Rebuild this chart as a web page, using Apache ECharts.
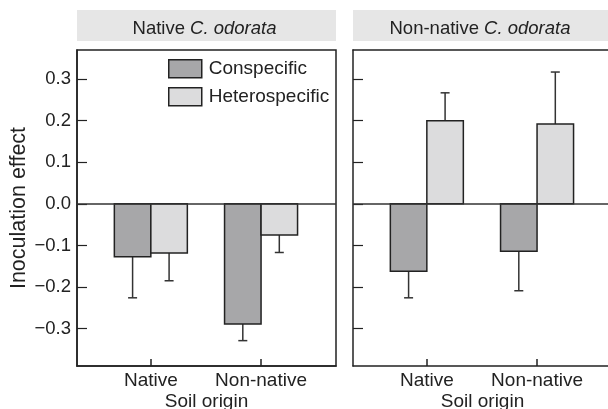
<!DOCTYPE html>
<html>
<head>
<meta charset="utf-8">
<script src="https://cdn.jsdelivr.net/npm/echarts@6/dist/echarts.min.js"></script>
<style>
  html, body { margin: 0; padding: 0; background: #fff; }
  #chart { width: 608px; height: 409px; }
</style>
</head>
<body>
<div id="chart"></div>
<script>
// soil origin categories, placed at x = 1 and 2 on each panel
const soilOrigin = ['Native', 'Non-native']
const soilPos = [1, 2]
const panels = ['Native', 'Non-native']
const yTicks = [-0.3, -0.2, -0.1, 0, 0.1, 0.2, 0.3]

// mean inoculation effect, one array per panel
const conNativePlant = [-0.127, -0.289]
const hetNativePlant = [-0.118, -0.075]
const conNonNativePlant = [-0.162, -0.114]
const hetNonNativePlant = [0.200, 0.192]

// end of the (one-sided) error bar
const conNativePlantErr = [-0.226, -0.329]
const hetNativePlantErr = [-0.185, -0.117]
const conNonNativePlantErr = [-0.226, -0.209]
const hetNonNativePlantErr = [0.267, 0.317]

const chart = echarts.init(document.getElementById('chart'))

const FONT = 'Liberation Sans, Arial, sans-serif'
const TXT = '#222'
const CON = '#a7a7a9'
const HET = '#dcdcdd'
const EDGE = '#222'
const BAR_W = 36.5

const grids = [
  { left: 77, top: 50, width: 259, height: 316 },
  { left: 353, top: 50, width: 259, height: 316 }
]

function fmt (v) {
  const s = Math.abs(v).toFixed(1)
  return v < -1e-9 ? '\u2212' + s : s
}

function xAxisFor (i) {
  return {
    gridIndex: i,
    type: 'value',
    min: 0.33,
    max: 2.68,
    name: 'Soil origin',
    nameLocation: 'middle',
    nameGap: 26,
    nameMoveOverlap: false,
    nameTextStyle: { fontFamily: FONT, fontSize: 19, color: TXT, verticalAlign: 'top' },
    axisLine: { show: true, onZero: false, lineStyle: { color: EDGE, width: 1.5 } },
    axisTick: { show: true, inside: true, length: 7, customValues: soilPos, lineStyle: { color: EDGE, width: 1.5 } },
    axisLabel: {
      customValues: soilPos,
      margin: 5,
      fontFamily: FONT,
      fontSize: 19,
      color: TXT,
      formatter: (v) => soilOrigin[soilPos.indexOf(Math.round(v))] || ''
    },
    splitLine: { show: false }
  }
}

// top edge of the frame
function topAxisFor (i) {
  return {
    gridIndex: i,
    type: 'value',
    position: 'top',
    min: 0.33,
    max: 2.68,
    axisLine: { show: true, onZero: false, lineStyle: { color: EDGE, width: 1.5 } },
    axisTick: { show: false },
    axisLabel: { show: false },
    splitLine: { show: false }
  }
}

function yAxisFor (i) {
  return {
    gridIndex: i,
    type: 'value',
    min: -0.39,
    max: 0.37,
    name: i === 0 ? 'Inoculation effect' : '',
    nameLocation: 'middle',
    nameGap: 47,
    nameMoveOverlap: false,
    nameTextStyle: { fontFamily: FONT, fontSize: 21.5, color: TXT },
    axisLine: { show: true, onZero: false, lineStyle: { color: EDGE, width: 1.5 } },
    axisTick: { show: true, inside: true, length: 10, customValues: yTicks, lineStyle: { color: EDGE, width: 1.2 } },
    axisLabel: {
      show: i === 0,
      customValues: yTicks,
      margin: 6,
      fontFamily: FONT,
      fontSize: 18.5,
      color: TXT,
      formatter: fmt
    },
    splitLine: { show: false }
  }
}

// side: -1 conspecific (left of tick), +1 heterospecific (right of tick)
function barSeries (name, i, vals, errs, side, color, withZero) {
  const s = {
    name: name,
    type: 'custom',
    xAxisIndex: i,
    yAxisIndex: i,
    silent: true,
    z: 3,
    itemStyle: { color: color },
    data: vals.map((v, k) => [soilPos[k], v, errs[k]]),
    renderItem: (params, api) => {
      const p0 = api.coord([api.value(0), 0])
      const p1 = api.coord([api.value(0), api.value(1)])
      const p2 = api.coord([api.value(0), api.value(2)])
      const x0 = side < 0 ? p0[0] - BAR_W : p0[0]
      const xc = x0 + BAR_W / 2
      const line = { stroke: '#333', lineWidth: 1.5 }
      return {
        type: 'group',
        children: [
          { type: 'line', shape: { x1: xc, y1: p1[1], x2: xc, y2: p2[1] }, style: line },
          { type: 'line', shape: { x1: xc - 4.5, y1: p2[1], x2: xc + 4.5, y2: p2[1] }, style: line },
          {
            type: 'rect',
            shape: { x: x0, y: Math.min(p0[1], p1[1]), width: BAR_W, height: Math.abs(p1[1] - p0[1]) },
            style: { fill: color, stroke: EDGE, lineWidth: 1.5 }
          }
        ]
      }
    }
  }
  if (withZero) {
    s.markLine = {
      silent: true,
      symbol: 'none',
      label: { show: false },
      lineStyle: { color: '#333', width: 1.5, type: 'solid' },
      data: [{ yAxis: 0 }]
    }
  }
  return s
}

function stripTitle (origin, cx) {
  return {
    left: cx,
    top: 14,
    textAlign: 'center',
    text: '{a|' + origin + ' }{b|C. odorata}',
    textStyle: {
      rich: {
        a: { fontFamily: FONT, fontSize: 18.5, fontWeight: 'normal', color: TXT },
        b: { fontFamily: FONT, fontSize: 18.5, fontWeight: 'normal', color: TXT, fontStyle: 'italic' }
      }
    }
  }
}

const option = {
  animation: false,
  backgroundColor: '#fff',
  graphic: [
    { type: 'rect', left: 77, top: 10, shape: { width: 259, height: 31 }, style: { fill: '#e6e6e6' }, silent: true, z: -1 },
    { type: 'rect', left: 353, top: 10, shape: { width: 259, height: 31 }, style: { fill: '#e6e6e6' }, silent: true, z: -1 }
  ],
  title: [stripTitle(panels[0], 199.5), stripTitle(panels[1], 475)],
  legend: {
    orient: 'vertical',
    left: 168,
    top: 59,
    padding: 0,
    itemWidth: 33,
    itemHeight: 18,
    itemGap: 8.4,
    selectedMode: false,
    textStyle: { fontFamily: FONT, fontSize: 19, color: TXT, lineHeight: 18, padding: [0, 0, 0, 2] },
    data: [
      { name: 'Conspecific', icon: 'rect', itemStyle: { color: CON, borderColor: EDGE, borderWidth: 1.5 } },
      { name: 'Heterospecific', icon: 'rect', itemStyle: { color: HET, borderColor: EDGE, borderWidth: 1.5 } }
    ]
  },
  grid: grids.map((g, i) => Object.assign({
    show: i === 0,
    borderColor: EDGE,
    borderWidth: 1.5,
    backgroundColor: 'transparent',
    outerBoundsMode: 'none',
    containLabel: false
  }, g)),
  xAxis: [xAxisFor(0), xAxisFor(1), topAxisFor(1)],
  yAxis: [yAxisFor(0), yAxisFor(1)],
  series: [
    barSeries('Conspecific', 0, conNativePlant, conNativePlantErr, -1, CON, true),
    barSeries('Heterospecific', 0, hetNativePlant, hetNativePlantErr, 1, HET, false),
    barSeries('Conspecific', 1, conNonNativePlant, conNonNativePlantErr, -1, CON, true),
    barSeries('Heterospecific', 1, hetNonNativePlant, hetNonNativePlantErr, 1, HET, false)
  ]
}

chart.setOption(option)
</script>
</body>
</html>
